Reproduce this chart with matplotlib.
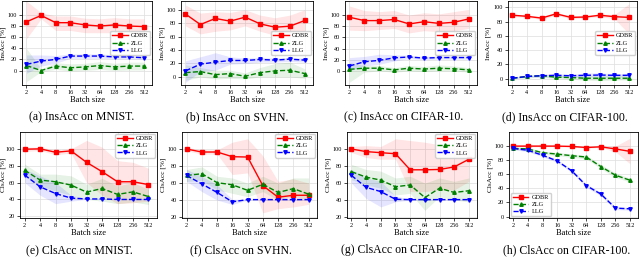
import matplotlib
matplotlib.use("Agg")
import matplotlib.pyplot as plt
import numpy as np

plt.rcParams['font.family'] = ['Liberation Serif', 'DejaVu Serif']

batch_sizes = ["2", "4", "8", "16", "32", "64", "128", "256", "512"]
methods = ["GDBR", "ZLG", "LLG"]

# (a) InsAcc on MNIST
a_gdbr = [87.5, 99, 86, 86, 82, 80, 82, 80, 79]
a_gdbr_lo = [57, 93, 72, 72, 68, 68, 68, 66, 65]
a_gdbr_hi = [125, 104, 98, 98, 94, 93, 95, 93, 93]
a_zlg = [9, 0, 8, 5, 6.5, 9, 6.5, 8, 8]
a_zlg_lo = [-20, -2, 2, -1, 0, 2, 0, 1, 1]
a_zlg_hi = [40, 3, 14, 12, 13, 16, 13, 15, 15]
a_llg = [11, 17, 20, 26, 26, 26, 24.5, 24.5, 23]
a_llg_lo = [-5, 8, 13, 22, 22, 22, 21, 21, 20]
a_llg_hi = [28, 28, 27, 30, 30, 30, 28, 28, 27]

# (b) InsAcc on SVHN
b_gdbr = [93.6, 78, 87, 83, 89, 79, 74, 75.5, 84]
b_gdbr_lo = [76, 64, 68, 70, 76, 68, 62, 62, 68]
b_gdbr_hi = [107, 95, 97, 96, 100, 92, 88, 92, 100]
b_zlg = [6.4, 8, 3.4, 5, 1, 6.4, 9, 10, 5]
b_zlg_lo = [-5, 0, -3, -2, -3, 0, 0, 0, -2]
b_zlg_hi = [18, 14, 10, 10, 6, 14, 20, 22, 12]
b_llg = [9, 19, 22, 24.5, 24.5, 26, 25, 26.5, 25]
b_llg_lo = [-8, 8, 10, 19, 20, 22, 22, 23, 22]
b_llg_hi = [24, 30, 36, 30, 28, 29, 28, 29, 28]

# (c) InsAcc on CIFAR-10
c_gdbr = [96, 90, 90, 92, 84, 88, 85, 87, 93]
c_gdbr_lo = [73, 72, 74, 76, 68, 72, 70, 72, 76]
c_gdbr_hi = [116, 108, 106, 108, 100, 104, 102, 106, 110]
c_zlg = [3, 5, 5, 2, 5, 3.5, 5, 4, 2]
c_zlg_lo = [-20, -2, 0, -2, 0, -1, 0, 0, -2]
c_zlg_hi = [15, 10, 10, 6, 10, 8, 11, 9, 6]
c_llg = [9, 16.5, 19, 23.5, 25, 23, 24, 24, 24]
c_llg_lo = [0, 9, 12, 18, 22, 20, 21, 21, 21]
c_llg_hi = [24, 26, 30, 29, 28, 26, 27, 27, 27]

# (d) InsAcc on CIFAR-100
d_gdbr = [89, 87.5, 85, 91, 86, 86.5, 89, 87, 86]
d_gdbr_lo = [87, 86, 83, 89, 84, 85, 87, 84, 63]
d_gdbr_hi = [91, 89, 87, 93, 88, 88, 91, 90, 105]
d_zlg = [0.5, 3, 4, 2, 1.5, 0.5, 0.5, 0.5, 0.5]
d_zlg_lo = [0, 1, 2, 0, -1, -2, -3, -2, -2]
d_zlg_hi = [1, 4, 6, 5, 4, 4, 4, 4, 4]
d_llg = [0.5, 3, 4, 4.6, 4, 4.6, 5, 4.6, 4.6]
d_llg_lo = [0, 2, 2, 2, 2, 2, 2, 2, 2]
d_llg_hi = [1, 4, 6, 7, 6, 8, 8, 7, 7]

# (e) ClsAcc on MNIST
e_gdbr = [99.6, 100, 96, 97.6, 84, 73, 61, 61, 57.6]
e_gdbr_lo = [97, 98, 93, 95, 60, 45, 35, 36, 38]
e_gdbr_hi = [102, 102, 99, 100, 110, 102, 86, 84, 77]
e_zlg = [74.6, 63, 61, 57, 48.7, 53, 46, 49, 43.4]
e_zlg_lo = [68, 56, 50, 45, 40, 38, 35, 37, 34]
e_zlg_hi = [82, 70, 70, 68, 58, 65, 56, 60, 52]
e_llg = [69, 55, 47, 41.6, 40.6, 40.6, 40, 40, 40]
e_llg_lo = [60, 45, 35, 38, 40, 40, 39.5, 39.5, 39.5]
e_llg_hi = [76, 68, 60, 45, 41, 41, 40.5, 40.5, 40.5]

# (f) ClsAcc on SVHN
f_gdbr = [100, 96.5, 96.5, 91, 90.6, 57, 43.4, 45.7, 45.7]
f_gdbr_lo = [98, 94, 94, 70, 72, 25, 30, 32, 35]
f_gdbr_hi = [102, 99, 99, 108, 112, 92, 62, 65, 60]
f_zlg = [69, 71, 60.5, 58, 51.5, 58.6, 49, 53.5, 47]
f_zlg_lo = [62, 63, 52, 48, 44, 50, 40, 45, 40]
f_zlg_hi = [76, 79, 68, 66, 60, 68, 60, 66, 66]
f_llg = [69, 59, 49, 38, 40.6, 40.6, 40.6, 40.6, 40.6]
f_llg_lo = [62, 50, 40, 35, 40, 40, 40, 40, 40]
f_llg_hi = [76, 68, 58, 41, 41, 41, 41, 41, 41]

# (g) ClsAcc on CIFAR-10
g_gdbr = [100, 97, 95.7, 94.5, 75.6, 75.6, 76, 79, 88]
g_gdbr_lo = [96, 90, 88, 88, 50, 50, 52, 52, 62]
g_gdbr_hi = [103, 104, 103, 112, 110, 108, 105, 105, 112]
g_zlg = [73.4, 67, 63.5, 55.7, 57.8, 43, 54, 49, 51]
g_zlg_lo = [64, 58, 54, 46, 48, 28, 44, 40, 38]
g_zlg_hi = [82, 76, 74, 66, 68, 60, 66, 62, 66]
g_llg = [69, 55, 50, 41, 40.6, 40.6, 40.6, 40.6, 40.6]
g_llg_lo = [60, 42, 32, 38, 40, 40, 40, 40, 40]
g_llg_hi = [76, 66, 62, 45, 41, 41, 41, 41, 41]

# (h) ClsAcc on CIFAR-100
h_gdbr = [100, 100, 100, 100, 99.5, 98, 99, 96, 92.5]
h_gdbr_lo = [99, 99, 99, 99, 98.5, 97, 98, 92, 75]
h_gdbr_hi = [101, 101, 101, 101, 100.5, 99, 100, 100, 111]
h_zlg = [96.7, 96, 90.6, 88.7, 86.4, 84.5, 71, 58.7, 51.6]
h_zlg_lo = [95, 94, 88.5, 86.5, 84, 82, 68, 55.5, 49]
h_zlg_hi = [98.5, 98, 92.5, 91, 89, 87, 74, 62, 54.5]
h_llg = [96.7, 94, 87, 79, 65, 44, 32, 12, 11]
h_llg_lo = [95, 92, 85, 77, 63, 41.5, 29.5, 10, 9]
h_llg_hi = [98.5, 96, 89, 81, 67, 46.5, 34.5, 14, 13]

captions = ["(a) InsAcc on MNIST.", "(b) InsAcc on SVHN.", "(c) InsAcc on CIFAR-10.",
            "(d) InsAcc on CIFAR-100.", "(e) ClsAcc on MNIST.", "(f) ClsAcc on SVHN.",
            "(g) ClsAcc on CIFAR-10.", "(h) ClsAcc on CIFAR-100."]

panels = [
    ((a_gdbr, a_gdbr_lo, a_gdbr_hi), (a_zlg, a_zlg_lo, a_zlg_hi), (a_llg, a_llg_lo, a_llg_hi)),
    ((b_gdbr, b_gdbr_lo, b_gdbr_hi), (b_zlg, b_zlg_lo, b_zlg_hi), (b_llg, b_llg_lo, b_llg_hi)),
    ((c_gdbr, c_gdbr_lo, c_gdbr_hi), (c_zlg, c_zlg_lo, c_zlg_hi), (c_llg, c_llg_lo, c_llg_hi)),
    ((d_gdbr, d_gdbr_lo, d_gdbr_hi), (d_zlg, d_zlg_lo, d_zlg_hi), (d_llg, d_llg_lo, d_llg_hi)),
    ((e_gdbr, e_gdbr_lo, e_gdbr_hi), (e_zlg, e_zlg_lo, e_zlg_hi), (e_llg, e_llg_lo, e_llg_hi)),
    ((f_gdbr, f_gdbr_lo, f_gdbr_hi), (f_zlg, f_zlg_lo, f_zlg_hi), (f_llg, f_llg_lo, f_llg_hi)),
    ((g_gdbr, g_gdbr_lo, g_gdbr_hi), (g_zlg, g_zlg_lo, g_zlg_hi), (g_llg, g_llg_lo, g_llg_hi)),
    ((h_gdbr, h_gdbr_lo, h_gdbr_hi), (h_zlg, h_zlg_lo, h_zlg_hi), (h_llg, h_llg_lo, h_llg_hi)),
]

W, H = 640, 257
# axes boxes in pixels: left, top, right, bottom
boxes = [(22, 1, 152, 85), (181, 1, 313, 85), (345, 1, 477, 85), (508, 1, 637, 85),
         (20, 132, 157, 218), (182, 132, 317, 218), (347, 132, 477, 218), (509, 132, 638, 218)]
ylabel_x = [6.5, 165, 329, 491, 6.5, 166, 331, 493]
ylims = [(-26, 125), (-12, 113), (-25, 125), (-9, 109),
         (18, 120), (19, 120), (19, 120), (-2, 120)]
yticks_top = [0, 20, 40, 60, 80, 100]
yticks_bot = [20, 40, 60, 80, 100]
cap_x = [82, 237, 404, 565, 79, 241, 402, 567]
cap_y = [117, 117, 117, 117, 250, 250, 250, 250]
legend_locs = ["center right"] * 4 + ["upper right"] * 3 + ["lower left"]

colors = ["#ff0000", "#008000", "#0000ff"]
styles = ["-", "--", "--"]
markers = ["s", "^", "v"]

fig = plt.figure(figsize=(W / 100, H / 100), dpi=100)
x = np.arange(len(batch_sizes))

for i, (series, box) in enumerate(zip(panels, boxes)):
    l, t, r, b = box
    ax = fig.add_axes([l / W, 1 - b / H, (r - l) / W, (b - t) / H])
    for (mean, lo, hi), c, ls, mk, name in zip(series, colors, styles, markers, methods):
        ax.fill_between(x, lo, hi, color=c, alpha=0.1, linewidth=0)
        ax.plot(x, mean, color=c, linestyle=ls, marker=mk, markersize=2.5,
                linewidth=1.0, label=name)
    ax.set_ylim(*ylims[i])
    ax.set_xlim(-0.3, len(batch_sizes) - 0.45)
    ax.set_xticks(x)
    ax.set_xticklabels(batch_sizes)
    if i < 4 or i == 7:
        ax.set_yticks(yticks_top)
    else:
        ax.set_yticks(yticks_bot)
    ax.tick_params(labelsize=4.5, length=2, width=0.5, pad=1.5)
    ax.grid(True, color="#dddddd", linewidth=0.5)
    ax.set_axisbelow(True)
    for sp in ax.spines.values():
        sp.set_linewidth(0.6)
    ax.set_xlabel("Batch size", fontsize=6, labelpad=1)
    ax.set_ylabel("InsAcc [%]" if i < 4 else "ClsAcc [%]", fontsize=5.2)
    ax.yaxis.set_label_coords((ylabel_x[i] - l) / (r - l), 0.5)
    ax.legend(loc=legend_locs[i], fontsize=4.5, frameon=True, framealpha=0.9,
              edgecolor="#cccccc", borderpad=0.3, labelspacing=0.3, handlelength=2.5,
              handletextpad=0.5, borderaxespad=0.3)
    fig.text(cap_x[i] / W, 1 - cap_y[i] / H, captions[i], ha="center", va="center", fontsize=8.5)

fig.savefig("out.png", dpi=100)
